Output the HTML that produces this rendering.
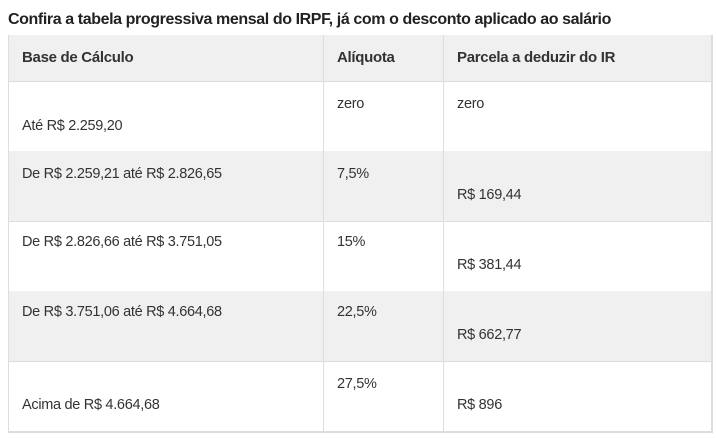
<!DOCTYPE html>
<html><head><meta charset="utf-8"><style>
body{margin:0;width:716px;height:438px;background:#fff;font-family:"Liberation Sans",sans-serif;color:#333;position:relative;overflow:hidden}
.t{position:absolute;white-space:nowrap;font-size:14.5px;line-height:18px;letter-spacing:-0.3px}
.row{position:absolute;left:8px;width:704px;border-bottom:1px solid #ddd}
.vl{position:absolute;width:1px;background:#ddd;top:35px;height:397px}
</style></head><body>
<div class="t" style="left:8px;top:11px;font-size:16px;font-weight:bold;color:#222;letter-spacing:-0.4px">Confira a tabela progressiva mensal do IRPF, já com o desconto aplicado ao salário</div>
<div style="position:absolute;left:8px;top:35px;width:703px;height:396px;border:1px solid #ddd"></div>
<div class="row" style="top:35px;height:46px;background:#f0f0f0"></div>
<div class="row" style="top:81px;height:70px"></div>
<div class="row" style="top:151px;height:70px;background:#f0f0f0"></div>
<div class="row" style="top:221px;height:70px"></div>
<div class="row" style="top:291px;height:70px;background:#f0f0f0"></div>
<div class="row" style="top:361px;height:70px"></div>
<div class="vl" style="left:323px"></div>
<div class="vl" style="left:443px"></div>
<div class="vl" style="left:8px"></div>
<div class="vl" style="left:711px"></div>

<div class="t" style="left:22px;top:49px;font-weight:bold;font-size:15px">Base de Cálculo</div>
<div class="t" style="left:337px;top:49px;font-weight:bold;font-size:15px">Alíquota</div>
<div class="t" style="left:457px;top:49px;font-weight:bold;font-size:15px">Parcela a deduzir do IR</div>

<div class="t" style="left:22px;top:117px">Até R$ 2.259,20</div>
<div class="t" style="left:337px;top:95px">zero</div>
<div class="t" style="left:457px;top:95px">zero</div>

<div class="t" style="left:22px;top:165px">De R$ 2.259,21 até R$ 2.826,65</div>
<div class="t" style="left:337px;top:165px">7,5%</div>
<div class="t" style="left:457px;top:186px">R$ 169,44</div>

<div class="t" style="left:22px;top:233px">De R$ 2.826,66 até R$ 3.751,05</div>
<div class="t" style="left:337px;top:233px">15%</div>
<div class="t" style="left:457px;top:256px">R$ 381,44</div>

<div class="t" style="left:22px;top:303px">De R$ 3.751,06 até R$ 4.664,68</div>
<div class="t" style="left:337px;top:303px">22,5%</div>
<div class="t" style="left:457px;top:326px">R$ 662,77</div>

<div class="t" style="left:22px;top:396px">Acima de R$ 4.664,68</div>
<div class="t" style="left:337px;top:375px">27,5%</div>
<div class="t" style="left:457px;top:396px">R$ 896</div>
</body></html>
